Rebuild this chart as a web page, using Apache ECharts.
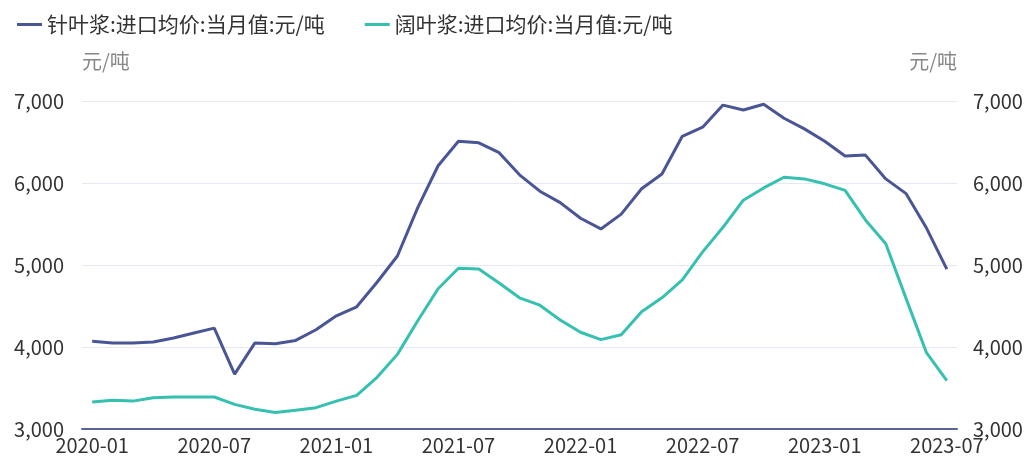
<!DOCTYPE html>
<html>
<head>
<meta charset="utf-8">
<script src="https://cdn.jsdelivr.net/npm/echarts@6/dist/echarts.min.js"></script>
<style>
html,body{margin:0;padding:0;background:#fff;}
#main{width:1030px;height:459px;}
</style>
</head>
<body>
<div id="main"></div>
<script>
const categories = [
  '2020-01','2020-02','2020-03','2020-04','2020-05','2020-06','2020-07','2020-08','2020-09','2020-10','2020-11','2020-12',
  '2021-01','2021-02','2021-03','2021-04','2021-05','2021-06','2021-07','2021-08','2021-09','2021-10','2021-11','2021-12',
  '2022-01','2022-02','2022-03','2022-04','2022-05','2022-06','2022-07','2022-08','2022-09','2022-10','2022-11','2022-12',
  '2023-01','2023-02','2023-03','2023-04','2023-05','2023-06','2023-07'
];
const softwoodName = '针叶浆:进口均价:当月值:元/吨';
const hardwoodName = '阔叶浆:进口均价:当月值:元/吨';
const softwood = [
  4070,4050,4050,4060,4110,4170,4230,3670,4050,4040,4080,4210,
  4380,4490,4790,5110,5700,6210,6510,6490,6370,6100,5900,5760,
  5570,5440,5620,5930,6110,6570,6680,6950,6890,6960,6790,6660,
  6510,6330,6340,6050,5870,5450,4950
];
const hardwood = [
  3330,3350,3340,3380,3390,3390,3390,3300,3240,3200,3230,3260,
  3340,3410,3630,3910,4320,4710,4960,4950,4780,4600,4510,4330,
  4180,4090,4150,4430,4600,4820,5160,5460,5790,5940,6070,6050,
  5990,5910,5550,5260,4590,3930,3590
];
const yMin = 3000, yMax = 7000, yStep = 1000;
const unitName = '元/吨';

const chart = echarts.init(document.getElementById('main'));
const font = "'Noto Sans CJK SC', 'Noto Sans', sans-serif";
const fs = 20;
chart.setOption({
  animation: false,
  textStyle: { fontFamily: font },
  legend: {
    left: 12, top: 9,
    itemWidth: 25, itemHeight: 3, itemGap: 40,
    icon: 'rect',
    textStyle: { fontSize: 21, color: '#333', fontFamily: font },
    data: [softwoodName, hardwoodName]
  },
  grid: { left: 82, right: 73, top: 101, bottom: 30 },
  xAxis: {
    type: 'category',
    data: categories,
    boundaryGap: true,
    axisLine: { lineStyle: { color: '#5a6494', width: 2 } },
    axisTick: { show: false },
    axisLabel: { interval: 5, fontSize: fs, color: '#333', margin: 6, fontFamily: font }
  },
  yAxis: [
    {
      type: 'value', min: yMin, max: yMax, interval: yStep, position: 'left',
      name: unitName, nameLocation: 'end', nameGap: 30,
      nameTextStyle: { fontSize: 20, color: '#888', align: 'left', fontFamily: font },
      axisLine: { show: false }, axisTick: { show: false },
      axisLabel: { fontSize: fs, color: '#333', margin: 18, fontFamily: font,
        formatter: v => v.toLocaleString('en-US') },
      splitLine: { lineStyle: { color: '#e8e8f2', width: 1 } }
    },
    {
      type: 'value', min: yMin, max: yMax, interval: yStep, position: 'right',
      name: unitName, nameLocation: 'end', nameGap: 30,
      nameTextStyle: { fontSize: 20, color: '#888', align: 'right', fontFamily: font },
      axisLine: { show: false }, axisTick: { show: false },
      axisLabel: { fontSize: fs, color: '#333', margin: 16, fontFamily: font,
        formatter: v => v.toLocaleString('en-US') },
      splitLine: { show: false }
    }
  ],
  series: [
    { name: softwoodName, type: 'line', data: softwood, yAxisIndex: 0,
      symbol: 'none', lineStyle: { width: 3, color: '#4a5596' }, itemStyle: { color: '#4a5596' } },
    { name: hardwoodName, type: 'line', data: hardwood, yAxisIndex: 0,
      symbol: 'none', lineStyle: { width: 3, color: '#36c0b0' }, itemStyle: { color: '#36c0b0' } }
  ]
});
</script>
</body>
</html>
